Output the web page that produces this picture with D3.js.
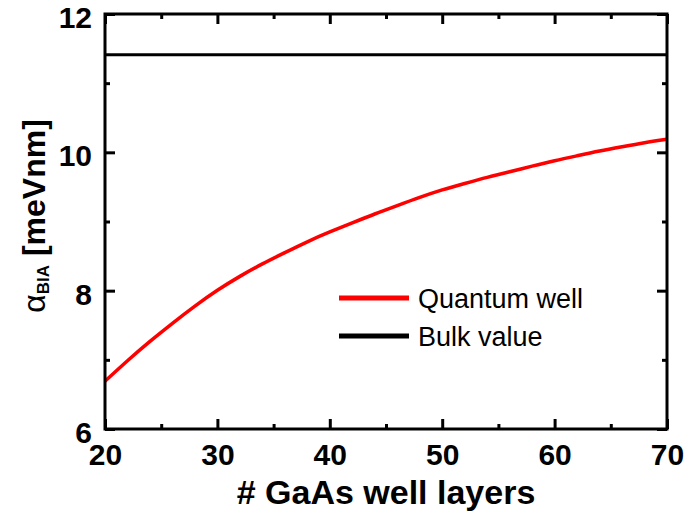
<!DOCTYPE html>
<html><head><meta charset="utf-8">
<script src="https://cdn.jsdelivr.net/npm/d3@7"></script>
<style>body{margin:0;background:#fff}</style></head>
<body><svg id="c" width="689" height="515"></svg>
<script>
// ---- data ----
const layers  = [20,22,24,26,28,30,32,34,36,38,40,42,44,46,48,50,52,54,56,58,60,62,64,66,68,70];
const alphaQW = [6.69,6.99,7.27,7.53,7.78,8.01,8.21,8.39,8.55,8.71,8.85,8.98,9.11,9.23,9.35,9.46,9.55,9.64,9.72,9.80,9.88,9.95,10.02,10.08,10.14,10.19];
const bulkValue = 11.41;
const xMajorTicks = [20,30,40,50,60,70];
const xMinorTicks = [25,35,45,55,65];
const yMajorTicks = [6,8,10,12];
const yMinorTicks = [7,9,11];
const seriesNames = ["Quantum well","Bulk value"];
const seriesColors = ["#ff0000","#000000"];

const svg = d3.select("#c");
const L=105, R=667, T=14, B=429;
const x = d3.scaleLinear().domain([20,70]).range([L,R]);
const y = d3.scaleLinear().domain([6,12]).range([B,T]);
const font = "'Liberation Sans', Arial, Helvetica, sans-serif";

// curves
svg.append("line").attr("x1",x(20)).attr("x2",x(70)).attr("y1",y(bulkValue)).attr("y2",y(bulkValue))
  .attr("stroke",seriesColors[1]).attr("stroke-width",3);
svg.append("path").datum(layers.map((l,i)=>[l,alphaQW[i]]))
  .attr("d",d3.line().x(d=>x(d[0])).y(d=>y(d[1])).curve(d3.curveBasis))
  .attr("fill","none").attr("stroke",seriesColors[0]).attr("stroke-width",3.5);

function styleAxis(g, size){
  g.select(".domain").remove();
  g.selectAll(".tick line").attr("stroke","#000").attr("stroke-width",3);
  g.selectAll("text").attr("font-family",font).attr("font-weight","bold").attr("font-size",size).attr("fill","#000");
}
// bottom
const gb = svg.append("g").attr("transform",`translate(0,${B})`)
  .call(d3.axisBottom(x).tickValues(xMajorTicks).tickSize(-10).tickSizeOuter(0).tickPadding(15).tickFormat(d3.format("d")));
styleAxis(gb,30);
const gbm = svg.append("g").attr("transform",`translate(0,${B})`)
  .call(d3.axisBottom(x).tickValues(xMinorTicks).tickSize(-5).tickFormat(""));
styleAxis(gbm,30);
// top
const gt = svg.append("g").attr("transform",`translate(0,${T})`)
  .call(d3.axisTop(x).tickValues(xMajorTicks).tickSize(-10).tickFormat(""));
styleAxis(gt,30);
const gtm = svg.append("g").attr("transform",`translate(0,${T})`)
  .call(d3.axisTop(x).tickValues(xMinorTicks).tickSize(-5).tickFormat(""));
styleAxis(gtm,30);
// left
const gl = svg.append("g").attr("transform",`translate(${L},0)`)
  .call(d3.axisLeft(y).tickValues(yMajorTicks).tickSize(-10).tickPadding(13).tickFormat(d3.format("d")));
styleAxis(gl,30);
gl.selectAll("text").attr("dy","0.45em");
const glm = svg.append("g").attr("transform",`translate(${L},0)`)
  .call(d3.axisLeft(y).tickValues(yMinorTicks).tickSize(-5).tickFormat(""));
styleAxis(glm,30);
// right
const gr = svg.append("g").attr("transform",`translate(${R},0)`)
  .call(d3.axisRight(y).tickValues(yMajorTicks).tickSize(-10).tickFormat(""));
styleAxis(gr,30);
const grm = svg.append("g").attr("transform",`translate(${R},0)`)
  .call(d3.axisRight(y).tickValues(yMinorTicks).tickSize(-5).tickFormat(""));
styleAxis(grm,30);

// frame
svg.append("rect").attr("x",L).attr("y",T).attr("width",R-L).attr("height",B-T)
  .attr("fill","none").attr("stroke","#000").attr("stroke-width",3);

// titles
svg.append("text").attr("x",(L+R)/2).attr("y",504).attr("text-anchor","middle")
  .attr("font-family",font).attr("font-weight","bold").attr("font-size",34).text("# GaAs well layers");
const yt = svg.append("text").attr("transform","translate(45,216) rotate(-90)").attr("text-anchor","middle")
  .attr("font-family",font).attr("font-size",32);
yt.append("tspan").text("α");
yt.append("tspan").attr("font-size",17).attr("font-weight","bold").attr("dy",4).text("BIA");
yt.append("tspan").attr("font-weight","bold").attr("dy",-4).text(" [meVnm]");

// legend
const legY = [298,336];
seriesNames.forEach((n,i)=>{
  svg.append("line").attr("x1",339).attr("x2",409).attr("y1",legY[i]).attr("y2",legY[i])
    .attr("stroke",seriesColors[i]).attr("stroke-width",5);
  svg.append("text").attr("x",418).attr("y",legY[i]+10).attr("font-family",font).attr("font-size",27).text(n);
});
</script></body></html>
